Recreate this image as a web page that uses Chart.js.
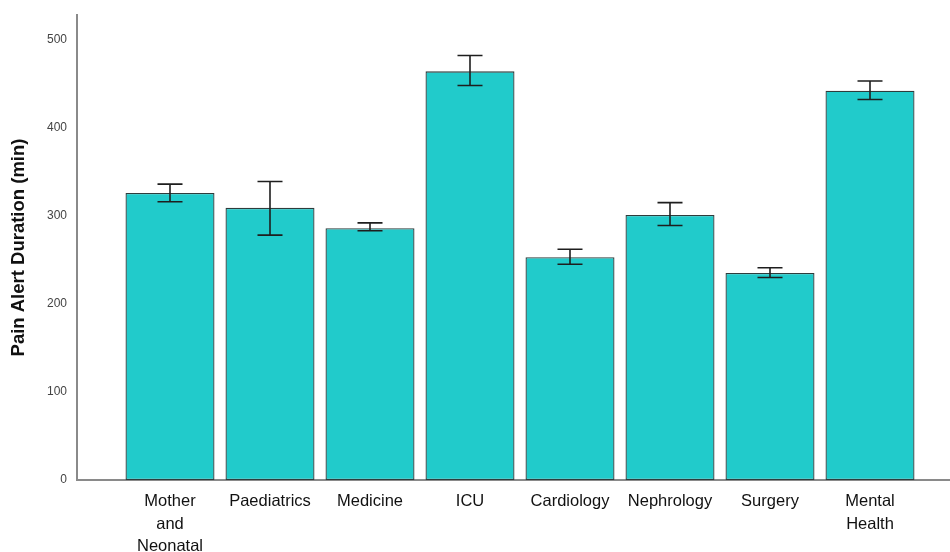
<!DOCTYPE html>
<html>
<head>
<meta charset="utf-8">
<script src="https://cdn.jsdelivr.net/npm/chart.js@4/dist/chart.umd.min.js"></script>
<style>
  html, body { margin: 0; padding: 0; background: #fff; }
  #wrap { width: 950px; height: 552px; }
</style>
</head>
<body>
<div id="wrap"><canvas id="c" width="950" height="552"></canvas></div>
<script>
// Mean pain alert duration per ward, with upper/lower error limits (minutes)
const categories = [
  ['Mother', 'and', 'Neonatal'],
  ['Paediatrics'],
  ['Medicine'],
  ['ICU'],
  ['Cardiology'],
  ['Nephrology'],
  ['Surgery'],
  ['Mental', 'Health']
];
const meanDuration = [326, 309, 286, 464, 253, 301, 235, 442];
const errorHigh    = [336, 339, 292, 482, 262, 315, 241, 453];
const errorLow     = [316, 278, 283, 448, 245, 289, 230, 432];
const yTickValues  = [0, 100, 200, 300, 400, 500];

const barData = meanDuration.map((v, i) => ({ x: i + 1, y: v }));

// Draws the error bars (whisker with caps) on top of each bar
const errorBars = {
  id: 'errorBars',
  afterDatasetsDraw(chart) {
    const { ctx, scales: { x, y } } = chart;
    ctx.save();
    ctx.strokeStyle = '#1e1e1e';
    ctx.lineWidth = 1.6;
    const cap = 12.5;
    meanDuration.forEach((v, i) => {
      const px = x.getPixelForValue(i + 1);
      const top = y.getPixelForValue(errorHigh[i]);
      const bot = y.getPixelForValue(errorLow[i]);
      ctx.beginPath();
      ctx.moveTo(px, top); ctx.lineTo(px, bot);
      ctx.moveTo(px - cap, top); ctx.lineTo(px + cap, top);
      ctx.moveTo(px - cap, bot); ctx.lineTo(px + cap, bot);
      ctx.stroke();
    });
    ctx.restore();
  }
};

new Chart(document.getElementById('c'), {
  type: 'bar',
  data: {
    datasets: [{
      data: barData,
      backgroundColor: '#21CBCB',
      borderColor: '#2e3c3c',
      borderWidth: 1.3,
      borderSkipped: false,
      barPercentage: 0.89,
      categoryPercentage: 1
    }]
  },
  options: {
    responsive: false,
    animation: false,
    layout: { padding: { top: 15, right: 0, left: 0, bottom: 0 } },
    plugins: { legend: { display: false }, tooltip: { enabled: false } },
    scales: {
      x: {
        type: 'linear',
        offset: false,
        min: 0.07,
        max: 8.8,
        grid: { display: false, offset: false },
        border: { display: true, color: '#8a8a8a', width: 2 },
        afterBuildTicks(scale) {
          scale.ticks = categories.map((c, i) => ({ value: i + 1 }));
        },
        afterFit(scale) { scale.height = 72; },
        ticks: {
          autoSkip: false,
          maxRotation: 0,
          minRotation: 0,
          padding: 2,
          color: '#111',
          font: { family: 'Liberation Sans', size: 16.5, lineHeight: 1.38 },
          callback: (v) => categories[Math.round(v) - 1] || ''
        }
      },
      y: {
        min: 0,
        max: 528,
        grid: { display: false },
        border: { display: true, color: '#8a8a8a', width: 2 },
        afterBuildTicks(scale) {
          scale.ticks = yTickValues.map(v => ({ value: v }));
        },
        afterFit(scale) { scale.width = 77; },
        ticks: {
          padding: 2,
          color: '#444',
          font: { family: 'Liberation Sans', size: 12 }
        },
        title: {
          display: true,
          text: 'Pain Alert Duration (min)',
          color: '#111',
          padding: { top: 8, bottom: 0 },
          font: { family: 'Liberation Sans', size: 18.5, weight: 'bold' }
        }
      }
    }
  },
  plugins: [errorBars]
});
</script>
</body>
</html>
